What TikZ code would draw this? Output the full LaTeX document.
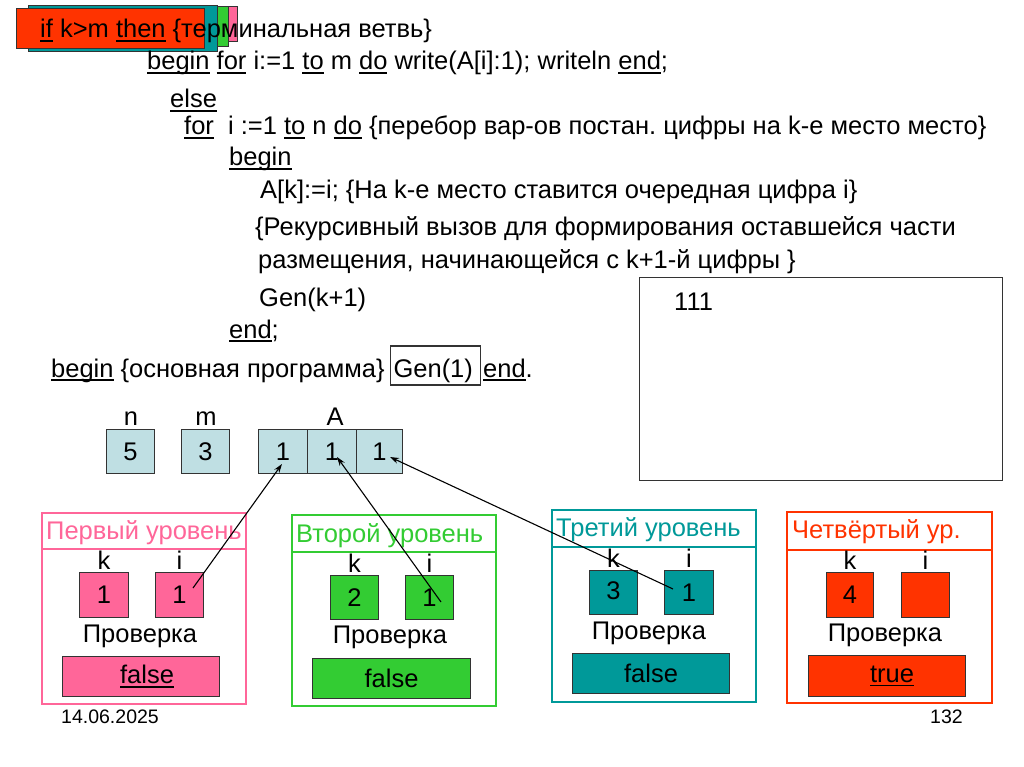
\documentclass[tikz,border=0pt]{standalone}
\usepackage{fontspec}
\setmainfont{Liberation Sans}
\usetikzlibrary{arrows.meta}
\definecolor{pinkc}{HTML}{FF6699}
\definecolor{greenc}{HTML}{33CC33}
\definecolor{tealc}{HTML}{009999}
\definecolor{redc}{HTML}{FF3300}
\definecolor{varc}{HTML}{BFDFE3}
\definecolor{edgec}{HTML}{333333}
\newcommand\ulx[1]{\setbox0\hbox{#1}\rlap{\rule[-3.6pt]{\wd0}{1.4pt}}\box0\relax}
\frenchspacing
\begin{document}
\begin{tikzpicture}[x=1pt,y=-1pt,
  font=\fontsize{25.5}{30}\selectfont,
  code/.style={anchor=base west, inner sep=0pt},
  cell/.style={draw=edgec, line width=1.1pt, inner sep=0pt, anchor=north west},
  varcell/.style={cell, fill=varc, minimum height=44pt},
  lbl/.style={anchor=base, inner sep=0pt},
  frame/.style={line width=1.2pt},
  conn/.style={line width=1.1pt, -{Stealth[length=9pt,width=6pt]}}]
\useasboundingbox (0,0) rectangle (1024,767);
\fill[white] (0,0) rectangle (1024,767);

% stacked colour bars at the top left
\draw[edgec, line width=1pt, fill=pinkc] (60,7) rectangle (237,42);
\draw[edgec, line width=1pt, fill=greenc] (50,7) rectangle (228,47);
\draw[edgec, line width=1pt, fill=tealc] (28,6) rectangle (217,52);
\draw[edgec, line width=1pt, fill=redc] (16,9) rectangle (204,49);

% program text
\node[code] (c1) at (40,38) {\ulx{if} k>m \ulx{then} \{терминальная ветвь\}};
\node[code] (c2) at (147,70) {\ulx{begin} \ulx{for} i:=1 \ulx{to} m \ulx{do} write(A[i]:1); writeln \ulx{end};};
\node[code] (c3) at (170,108) {\ulx{else}};
\node[code] (c4) at (184,135) {\ulx{for}\ \ i :=1 \ulx{to} n \ulx{do} \{перебор вар-ов постан. цифры на k-е место место\}};
\node[code] (c5) at (229,166) {\ulx{begin}};
\node[code] (c6) at (260,199) {A[k]:=i; \{На k-е место ставится очередная цифра i\}};
\node[code] (c7) at (255,236) {\{Рекурсивный вызов для формирования оставшейся части};
\node[code] (c8) at (258,268) {размещения, начинающейся с k+1-й цифры \}};
\node[code] (c9) at (259,306) {Gen(k+1)};
\node[code] (c10) at (229,338) {\ulx{end};};
\node[code] (c11) at (51,377) {\ulx{begin} \{основная программа\}};
\node[draw=edgec, line width=1.1pt, anchor=base west, inner xsep=3pt, inner ysep=1pt,
      text height=30pt, text depth=7pt, minimum width=90pt, align=left] (gen1) at (390,377) {Gen(1)\hspace{5pt}};
\node[code] (c12) at (483,377) {\ulx{end}.};

% output window
\node[cell, minimum width=363pt, minimum height=203pt] (out) at (639,277) {};
\node[code] (o1) at (674,310) {111};

% variables
\node[lbl] (ln) at (131,425) {n};
\node[lbl] (lm) at (206,425) {m};
\node[lbl] (lA) at (335,425) {A};
\node[varcell, minimum width=48pt] (vn) at (106,429) {5};
\node[varcell, minimum width=48pt] (vm) at (181,429) {3};
\node[varcell, minimum width=49pt] (a1) at (258,429) {1};
\node[varcell, minimum width=49pt] (a2) at (307,429) {1};
\node[varcell, minimum width=46pt] (a3) at (356,429) {1};

% level 1
\draw[pinkc, frame] (42,513) rectangle (246,704);
\draw[pinkc, frame] (42,549) -- (246,549);
\node[code, text=pinkc] (t1) at (46,539) {Первый уровень};
\node[cell, fill=pinkc, minimum width=49pt, minimum height=45pt] (k1) at (79,572) {1};
\node[cell, fill=pinkc, minimum width=48pt, minimum height=45pt] (i1) at (155,572) {1};
\node[lbl] (lk1) at (k1.north |- 0,569) {k};
\node[lbl] (li1) at (i1.north |- 0,569) {i};
\node (p1) at (140,636) {Проверка};
\node[cell, fill=pinkc, minimum width=157pt, minimum height=40pt] (f1) at (62,656) {\hspace{12pt}\raisebox{-2pt}{\ulx{false}}};

% level 2
\draw[greenc, frame] (292,515) rectangle (496,706);
\draw[greenc, frame] (292,552) -- (496,552);
\node[code, text=greenc] (t2) at (296,542) {Второй уровень};
\node[cell, fill=greenc, minimum width=48pt, minimum height=44pt] (k2) at (330,575) {2};
\node[cell, fill=greenc, minimum width=48pt, minimum height=44pt] (i2) at (405,575) {1};
\node[lbl] (lk2) at (k2.north |- 0,572) {k};
\node[lbl] (li2) at (i2.north |- 0,572) {i};
\node (p2) at (390,637) {Проверка};
\node[cell, fill=greenc, minimum width=158pt, minimum height=40pt] (f2) at (312,658) {false};

% level 3
\draw[tealc, frame] (552,510) rectangle (756,702);
\draw[tealc, frame] (552,547) -- (756,547);
\node[code, text=tealc] (t3) at (556,536) {Третий уровень};
\node[cell, fill=tealc, minimum width=48pt, minimum height=44pt] (k3) at (589,570) {\raisebox{3pt}{3}};
\node[cell, fill=tealc, minimum width=49pt, minimum height=44pt] (i3) at (664,570) {1};
\node[lbl] (lk3) at (k3.north |- 0,567) {k};
\node[lbl] (li3) at (i3.north |- 0,567) {i};
\node (p3) at (649,633) {Проверка};
\node[cell, fill=tealc, minimum width=157pt, minimum height=40pt] (f3) at (572,653) {false};

% level 4
\draw[redc, frame] (787,512) rectangle (992,703);
\draw[redc, frame] (787,550) -- (992,550);
\node[code, text=redc] (t4) at (792,538) {Четвёртый ур.};
\node[cell, fill=redc, minimum width=47pt, minimum height=45pt] (k4) at (826,572) {\raisebox{-4pt}{4}};
\node[cell, fill=redc, minimum width=48pt, minimum height=45pt] (i4) at (901,572) {};
\node[lbl] (lk4) at (k4.north |- 0,569) {k};
\node[lbl] (li4) at (i4.north |- 0,569) {i};
\node (p4) at (885,635) {Проверка};
\node[cell, fill=redc, minimum width=157pt, minimum height=41pt] (f4) at (808,655) {\hspace{10pt}\ulx{true}};

% connectors
\coordinate (s1) at (193,588);
\coordinate (e1) at (282,464);
\coordinate (s2) at (441,602);
\coordinate (e2) at (337,457);
\coordinate (s3) at (673,589);
\coordinate (e3) at (390,457);
\draw[conn] (s1) -- (e1);
\draw[conn] (s2) -- (e2);
\draw[conn] (s3) -- (e3);

% footer
\node[code, font=\fontsize{19.5}{23}\selectfont] (date) at (61,723) {14.06.2025};
\node[code, font=\fontsize{19.5}{23}\selectfont] (page) at (930,723) {132};
\end{tikzpicture}
\end{document}
